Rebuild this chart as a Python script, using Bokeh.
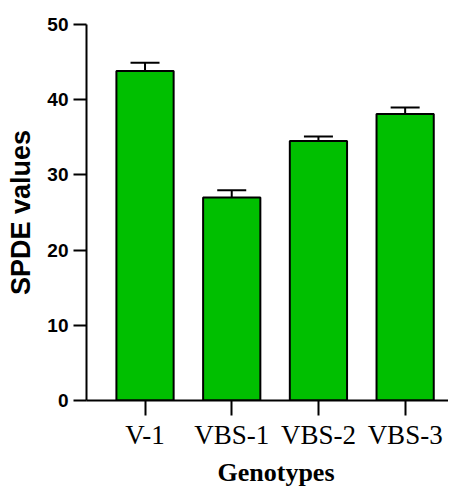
from bokeh.plotting import figure
from bokeh.models import ColumnDataSource, Range1d, FixedTicker, Whisker, TeeHead, Title
from bokeh.embed import file_html
from bokeh.resources import INLINE

genotypes = ["V-1", "VBS-1", "VBS-2", "VBS-3"]
spde = [43.8, 27.0, 34.5, 38.1]
err = [1.1, 0.95, 0.6, 0.85]
y_ticks = [0, 10, 20, 30, 40, 50]

xpos = list(range(len(genotypes)))
src = ColumnDataSource(dict(
    x=xpos, top=spde,
    upper=[v + e for v, e in zip(spde, err)],
))

p = figure(width=448, height=490, output_backend="svg", toolbar_location=None,
           x_range=Range1d(-0.675, 3.50), y_range=Range1d(0, 50),
           min_border_left=86, min_border_top=24, min_border_bottom=90,
           min_border_right=0)
p.outline_line_color = None
p.grid.visible = False

p.add_layout(Whisker(source=src, base="x", upper="upper", lower="top",
                     line_width=2, line_color="black",
                     upper_head=TeeHead(size=29, line_width=2, line_color="black"),
                     lower_head=None))
p.vbar(x="x", top="top", bottom=0, width=0.66, source=src,
       fill_color="#00BF00", line_color="black", line_width=2)

for ax in (p.xaxis[0], p.yaxis[0]):
    ax.axis_line_width = 2
    ax.axis_line_color = "black"
    ax.major_tick_line_width = 2
    ax.major_tick_line_color = "black"
    ax.major_tick_in = 0
    ax.minor_tick_line_color = None
    ax.major_label_text_color = "black"
    ax.axis_label_text_color = "black"

p.yaxis.ticker = FixedTicker(ticks=y_ticks)
p.yaxis.major_tick_out = 13
p.yaxis.major_label_standoff = 5
p.yaxis.major_label_text_font = "Liberation Sans"
p.yaxis.major_label_text_font_style = "bold"
p.yaxis.major_label_text_font_size = "19px"
p.yaxis.axis_label = "SPDE values"
p.yaxis.axis_label_text_font = "Liberation Sans"
p.yaxis.axis_label_text_font_style = "bold"
p.yaxis.axis_label_text_font_size = "27px"
p.yaxis.axis_label_standoff = 8

p.xaxis.ticker = FixedTicker(ticks=xpos)
p.xaxis.major_label_overrides = {i: g for i, g in zip(xpos, genotypes)}
p.xaxis.major_tick_out = 15
p.xaxis.major_label_standoff = 4
p.xaxis.major_label_text_font = "Liberation Serif"
p.xaxis.major_label_text_font_style = "normal"
p.xaxis.major_label_text_font_size = "27px"

p.add_layout(Title(text="Genotypes", align="left", offset=131, standoff=6,
                   text_font="Liberation Serif", text_font_style="bold",
                   text_font_size="26px", text_color="black"), "below")

open("out.html", "w").write(file_html(p, INLINE))
